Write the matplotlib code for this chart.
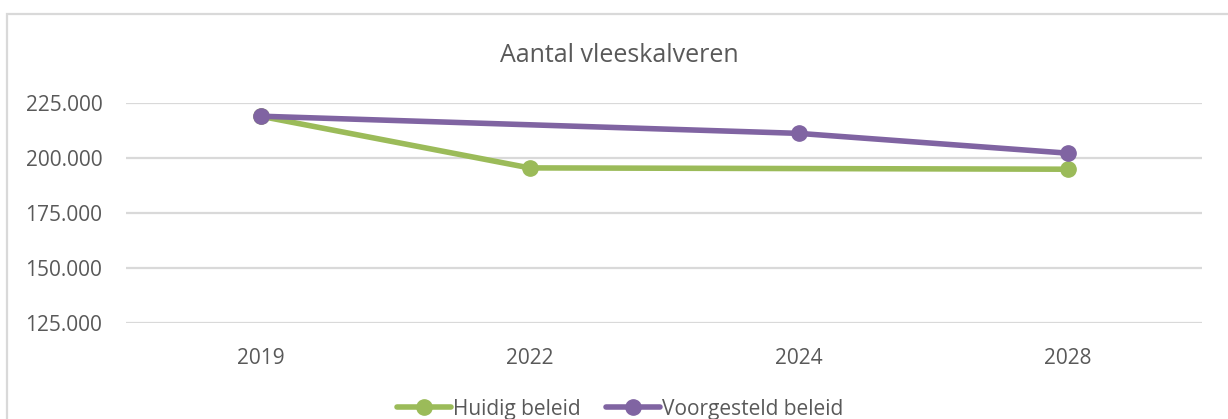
import numpy as np
import matplotlib
matplotlib.use("Agg")
from matplotlib import pyplot as plt
from matplotlib.patches import Rectangle

years = ['2019', '2022', '2024', '2028']
huidig = [219000, 195500, np.nan, 194900]        # no value for 2024
voorgesteld = [219000, np.nan, 211200, 202200]   # no value for 2022

green = '#9BBB59'
purple = '#8064A2'
grey_text = '#595959'

plt.rcParams['font.family'] = ['Open Sans', 'DejaVu Sans']

fig = plt.figure(figsize=(12.28, 4.19), dpi=100)
ax = fig.add_axes([126 / 1228, 1 - 323 / 419, (1202 - 126) / 1228, (323 - 103) / 419])

x = np.arange(len(years))

def plot_series(vals, color, label):
    vals = np.array(vals, dtype=float)
    ok = ~np.isnan(vals)
    ax.plot(x[ok], vals[ok], color=color, linewidth=4, marker='o',
            markersize=11, label=label, solid_capstyle='round', zorder=3)

plot_series(huidig, green, 'Huidig beleid')
plot_series(voorgesteld, purple, 'Voorgesteld beleid')

ax.set_xlim(-0.5, len(years) - 0.5)
ax.set_ylim(125000, 225000)
ax.set_yticks([125000, 150000, 175000, 200000, 225000])
ax.set_yticklabels([f'{v:,}'.replace(',', '.') for v in ax.get_yticks().astype(int)])
ax.set_xticks(x)
ax.set_xticklabels(years)
ax.tick_params(axis='both', length=0, labelsize=15, labelcolor=grey_text)
ax.tick_params(axis='y', pad=17)
ax.tick_params(axis='x', pad=18)
ax.grid(axis='y', color='#D9D9D9', linewidth=1.6)
ax.set_axisbelow(True)
for s in ax.spines.values():
    s.set_visible(False)

fig.text(619 / 1228, 1 - 55 / 419, 'Aantal vleeskalveren', ha='center', va='center',
         fontsize=18, color=grey_text)

fig.legend(loc='center', bbox_to_anchor=(620 / 1228, 1 - 409 / 419), ncol=2,
           frameon=False, fontsize=15, labelcolor=grey_text, handlelength=2.6,
           handletextpad=0.1, columnspacing=1.2)

# chart border, cut off at right and bottom
fig.patches.append(Rectangle((7 / 1228, -0.2), 1.2, 1.2 - 14 / 419,
                             transform=fig.transFigure, fill=False,
                             edgecolor='#D9D9D9', linewidth=1.6))

fig.savefig('out.png', dpi=100)
